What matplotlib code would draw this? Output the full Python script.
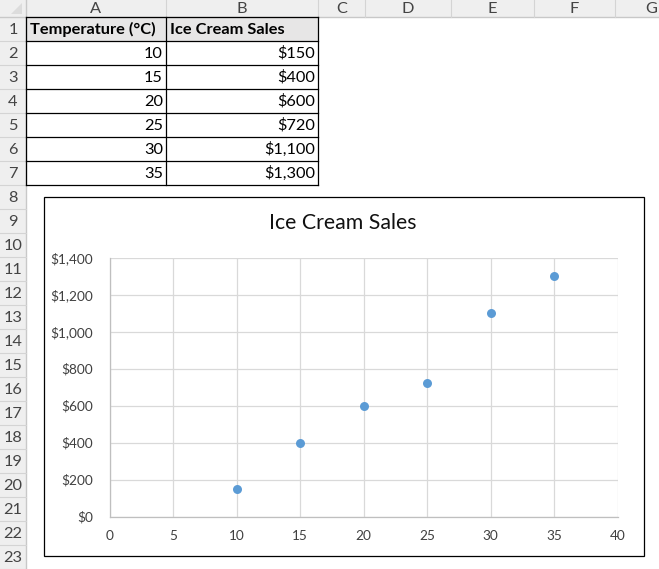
import matplotlib.pyplot as plt
from matplotlib.patches import Rectangle, Polygon
from matplotlib.ticker import FuncFormatter

# sheet data
temps = [10, 15, 20, 25, 30, 35]
sales = [150, 400, 600, 720, 1100, 1300]
col_letters = ['A', 'B', 'C', 'D', 'E', 'F', 'G']
headers = ['Temperature (°C)', 'Ice Cream Sales']
x_ticks = [0, 5, 10, 15, 20, 25, 30, 35, 40]
y_ticks = [0, 200, 400, 600, 800, 1000, 1200, 1400]

W, H = 659, 569
plt.rcParams['font.family'] = ['Lato', 'DejaVu Sans']

fig = plt.figure(figsize=(W / 100, H / 100), dpi=100)

# spreadsheet layer, pixel coordinates
sh = fig.add_axes([0, 0, 1, 1])
sh.set_xlim(0, W)
sh.set_ylim(H, 0)
sh.axis('off')

hdr_h, row_h, rh_w = 17, 24, 26
col_edges = [26, 166, 318, 365, 451, 534, 615, 695]
hdr_bg = '#efefef'
sep = '#d4d4d4'
lbl = '#444444'
fs = 11.8

# column header strip
sh.add_patch(Rectangle((0, 0), W, hdr_h, fc=hdr_bg, ec='none'))
sh.add_patch(Rectangle((0, 0), rh_w, H, fc=hdr_bg, ec='none'))
sh.add_patch(Polygon([(22, 3), (22, 14), (11, 14)], closed=True, fc='#dcdcdc', ec='none'))
sh.plot([0, W], [hdr_h, hdr_h], color='#c8c8c8', lw=1)
sh.plot([rh_w, rh_w], [0, H], color='#c8c8c8', lw=1)
for i, c in enumerate(col_letters):
    l, r = col_edges[i], col_edges[i + 1]
    sh.plot([r, r], [0, hdr_h], color=sep, lw=0.8)
    xc = min((l + r) / 2, W - 8)
    sh.text(xc, hdr_h / 2 + 0.5, c, ha='center', va='center',
            fontsize=fs, color=lbl)

# row headers
for r in range(1, 24):
    top = hdr_h + (r - 1) * row_h
    sh.plot([0, rh_w], [top + row_h, top + row_h], color=sep, lw=0.8)
    sh.text(rh_w / 2, top + row_h / 2 + 0.5, str(r), ha='center', va='center',
            fontsize=fs, color=lbl)

# table
a_l, b_l, b_r = col_edges[0], col_edges[1], col_edges[2]
sh.add_patch(Rectangle((a_l, hdr_h), b_r - a_l, row_h, fc='#e7e6e6', ec='none'))
for k in range(8):
    y = hdr_h + k * row_h
    sh.plot([a_l, b_r], [y, y], color='black', lw=0.9)
for x in (a_l, b_l, b_r):
    sh.plot([x, x], [hdr_h, hdr_h + 7 * row_h], color='black', lw=0.9)
sh.text(a_l + 4, hdr_h + row_h / 2 + 0.5, headers[0], ha='left', va='center',
        fontsize=fs, fontweight='bold')
sh.text(b_l + 4, hdr_h + row_h / 2 + 0.5, headers[1], ha='left', va='center',
        fontsize=fs, fontweight='bold')
for i, (t, s) in enumerate(zip(temps, sales)):
    yc = hdr_h + (i + 1) * row_h + row_h / 2 + 0.5
    sh.text(b_l - 3, yc, str(t), ha='right', va='center', fontsize=fs)
    sh.text(b_r - 3, yc, f'${s:,}', ha='right', va='center', fontsize=fs)

# chart frame
sh.add_patch(Rectangle((43.5, 196.5), 600, 359, fc='white', ec='black', lw=0.9))
sh.text(343, 223, 'Ice Cream Sales', ha='center', va='center', fontsize=15.3,
        color='#111111')

# chart plot area
px_l, px_r, px_t, px_b = 109.5, 617.5, 257.5, 516.5
ax = fig.add_axes([px_l / W, 1 - px_b / H, (px_r - px_l) / W, (px_b - px_t) / H])
ax.scatter(temps, sales, s=42, color='#5b9bd5', zorder=3, linewidths=0)
ax.set_xlim(0, 40)
ax.set_ylim(0, 1400)
ax.set_xticks(x_ticks)
ax.set_yticks(y_ticks)
ax.yaxis.set_major_formatter(FuncFormatter(lambda v, p: f'${int(v):,}'))
ax.grid(True, color='#d9d9d9', lw=0.9)
ax.set_axisbelow(True)
for side in ('top', 'right'):
    ax.spines[side].set_visible(False)
for side in ('left', 'bottom'):
    ax.spines[side].set_color('#bfbfbf')
    ax.spines[side].set_linewidth(0.9)
ax.tick_params(length=0, labelsize=9.8, labelcolor='#404040')
ax.tick_params(axis='x', pad=10)
ax.tick_params(axis='y', pad=12)

fig.savefig('out.png', dpi=100)
